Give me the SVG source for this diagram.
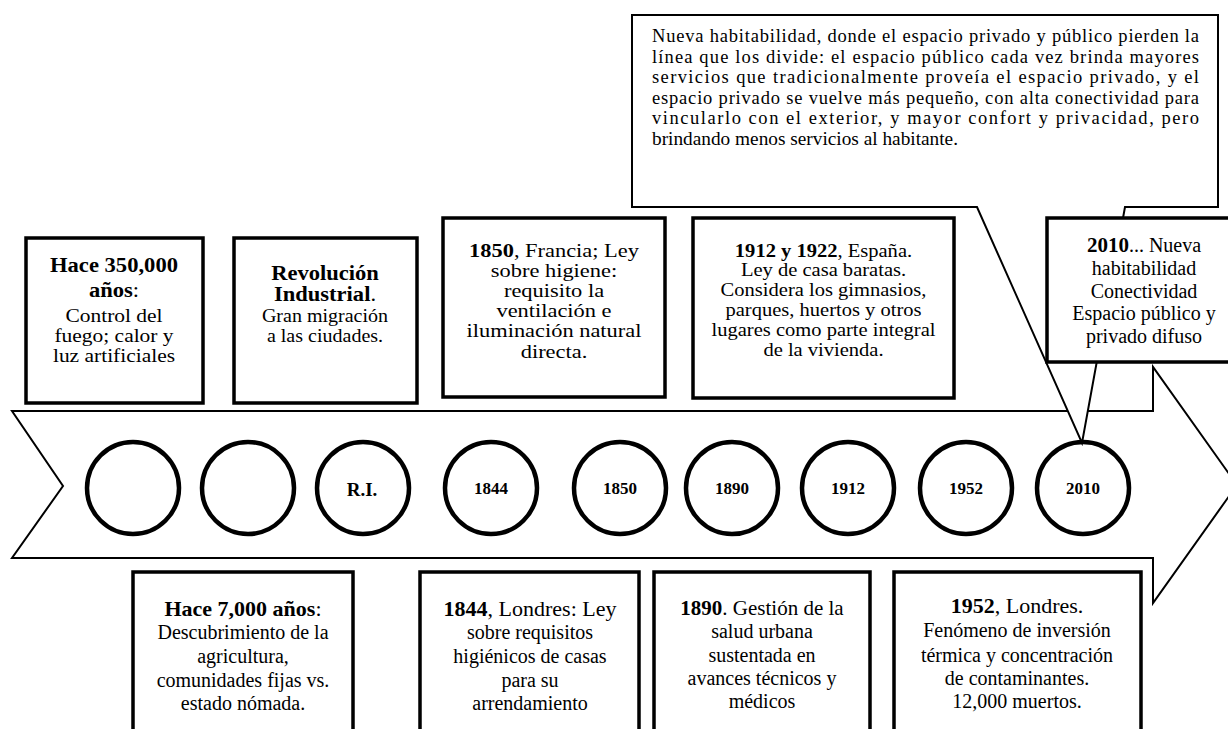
<svg xmlns="http://www.w3.org/2000/svg" width="1228" height="729" viewBox="0 0 1228 729">
<style>
text{font-family:"Liberation Serif","Times New Roman",serif;fill:#000;text-anchor:middle}
.l{text-anchor:start}
.b{font-weight:bold}
.box{fill:#fff;stroke:#000;stroke-width:3.5}
.thin{fill:#fff;stroke:#000;stroke-width:2;stroke-linejoin:miter}
.circ{fill:#fff;stroke:#000;stroke-width:4.5}
.yr{font-weight:bold;font-size:17px}
</style>
<rect width="1228" height="729" fill="#fff"/>
<g id="connectors">
<path id="timeline-arrow" class="thin" d="M12,411 H1153 V367 L1237,485 L1153,603 V558 H12 L63,486 Z"/>
</g>
<g id="circles">
<g id="c1"><circle class="circ" cx="133" cy="488" r="46"/></g>
<g id="c2"><circle class="circ" cx="248" cy="488" r="46"/></g>
<g id="c3"><circle class="circ" cx="363" cy="488" r="46"/><text class="yr" x="362" y="496" style="font-size:19px">R.I.</text></g>
<g id="c4"><circle class="circ" cx="491" cy="488" r="46"/><text class="yr" x="491" y="494">1844</text></g>
<g id="c5"><circle class="circ" cx="620" cy="488" r="46"/><text class="yr" x="620" y="494">1850</text></g>
<g id="c6"><circle class="circ" cx="732" cy="488" r="46"/><text class="yr" x="732" y="494">1890</text></g>
<g id="c7"><circle class="circ" cx="848" cy="488" r="46"/><text class="yr" x="848" y="494">1912</text></g>
<g id="c8"><circle class="circ" cx="966" cy="488" r="46"/><text class="yr" x="966" y="494">1952</text></g>
<g id="c9"><circle class="circ" cx="1083" cy="488" r="46"/><text class="yr" x="1083" y="494">2010</text></g>
</g>
<g id="box-350000">
<rect class="box" x="26" y="238" width="177" height="165"/>
<g transform="translate(114,0) scale(1.13,1)">
<text x="0" y="272" style="font-size:20px"><tspan class="b">Hace 350,000</tspan></text>
<text x="0" y="297" style="font-size:20px"><tspan class="b">años</tspan>:</text>
<text x="0" y="322" style="font-size:19px">Control del</text>
<text x="0" y="342" style="font-size:19px">fuego; calor y</text>
<text x="0" y="362" style="font-size:19px">luz artificiales</text>
</g>
</g>
<g id="box-ri">
<rect class="box" x="234" y="238" width="183" height="165"/>
<g transform="translate(325,0) scale(1.1,1)">
<text x="0" y="280" style="font-size:20.5px"><tspan class="b">Revolución</tspan></text>
<text x="0" y="301" style="font-size:20.5px"><tspan class="b">Industrial</tspan>.</text>
<text x="0" y="322" style="font-size:18.2px">Gran migración</text>
<text x="0" y="342" style="font-size:18.2px">a las ciudades.</text>
</g>
</g>
<g id="box-1850">
<rect class="box" x="443" y="218" width="222" height="179"/>
<g transform="translate(554,0) scale(1.18,1)" style="font-size:19px">
<text x="0" y="257"><tspan class="b">1850</tspan>, Francia; Ley</text>
<text x="0" y="277">sobre higiene:</text>
<text x="0" y="297">requisito la</text>
<text x="0" y="317">ventilación e</text>
<text x="0" y="337">iluminación natural</text>
<text x="0" y="358">directa.</text>
</g>
</g>
<g id="box-1912">
<rect class="box" x="693" y="218" width="261" height="180"/>
<g transform="translate(823.5,0) scale(1.11,1)" style="font-size:18.5px">
<text x="0" y="257"><tspan class="b">1912 y 1922</tspan>, España.</text>
<text x="0" y="276">Ley de casa baratas.</text>
<text x="0" y="296">Considera los gimnasios,</text>
<text x="0" y="316">parques, huertos y otros</text>
<text x="0" y="336">lugares como parte integral</text>
<text x="0" y="356">de la vivienda.</text>
</g>
</g>
<g id="callout-habitabilidad" style="font-size:18.5px">
<path class="thin" d="M632,15 H1218 V207 H1125 L1082,443 L977,207 H632 Z"/>
<text class="l" x="652" y="42" textLength="547" lengthAdjust="spacing">Nueva habitabilidad, donde el espacio privado y público pierden la</text>
<text class="l" x="652" y="63" textLength="547" lengthAdjust="spacing">línea que los divide: el espacio público cada vez brinda mayores</text>
<text class="l" x="652" y="83" textLength="547" lengthAdjust="spacing">servicios que tradicionalmente proveía el espacio privado, y el</text>
<text class="l" x="652" y="104" textLength="547" lengthAdjust="spacing">espacio privado se vuelve más pequeño, con alta conectividad para</text>
<text class="l" x="652" y="124" textLength="547" lengthAdjust="spacing">vincularlo con el exterior, y mayor confort y privacidad, pero</text>
<text class="l" x="652" y="145" textLength="306" lengthAdjust="spacingAndGlyphs">brindando menos servicios al habitante.</text>
</g>
<g id="box-2010" style="font-size:20px">
<rect class="box" x="1047" y="218" width="200" height="144"/>
<text x="1144" y="252"><tspan class="b" style="font-size:21px">2010</tspan>... Nueva</text>
<text x="1144" y="275">habitabilidad</text>
<text x="1144" y="298">Conectividad</text>
<text x="1144" y="320">Espacio público y</text>
<text x="1144" y="343">privado difuso</text>
</g>
<g id="box-7000" style="font-size:20px">
<rect class="box" x="133" y="572" width="220" height="200"/>
<text x="243" y="616" style="font-size:22px"><tspan class="b">Hace 7,000 años</tspan>:</text>
<text x="243" y="639">Descubrimiento de la</text>
<text x="243" y="663">agricultura,</text>
<text x="243" y="687">comunidades fijas vs.</text>
<text x="243" y="710">estado nómada.</text>
</g>
<g id="box-1844" style="font-size:20px">
<rect class="box" x="420" y="572" width="219" height="200"/>
<text x="530" y="616" style="font-size:22px"><tspan class="b">1844</tspan>, Londres: Ley</text>
<text x="530" y="639">sobre requisitos</text>
<text x="530" y="663">higiénicos de casas</text>
<text x="530" y="687">para su</text>
<text x="530" y="710">arrendamiento</text>
</g>
<g id="box-1890" style="font-size:20px">
<rect class="box" x="654" y="572" width="216" height="200"/>
<text x="762" y="615" style="font-size:21px"><tspan class="b">1890</tspan>. Gestión de la</text>
<text x="762" y="638">salud urbana</text>
<text x="762" y="662">sustentada en</text>
<text x="762" y="685">avances técnicos y</text>
<text x="762" y="708">médicos</text>
</g>
<g id="box-1952" style="font-size:20px">
<rect class="box" x="894" y="572" width="247" height="200"/>
<text x="1017" y="613" style="font-size:22px"><tspan class="b">1952</tspan>, Londres.</text>
<text x="1017" y="637">Fenómeno de inversión</text>
<text x="1017" y="662">térmica y concentración</text>
<text x="1017" y="685">de contaminantes.</text>
<text x="1017" y="708">12,000 muertos.</text>
</g>
</svg>
